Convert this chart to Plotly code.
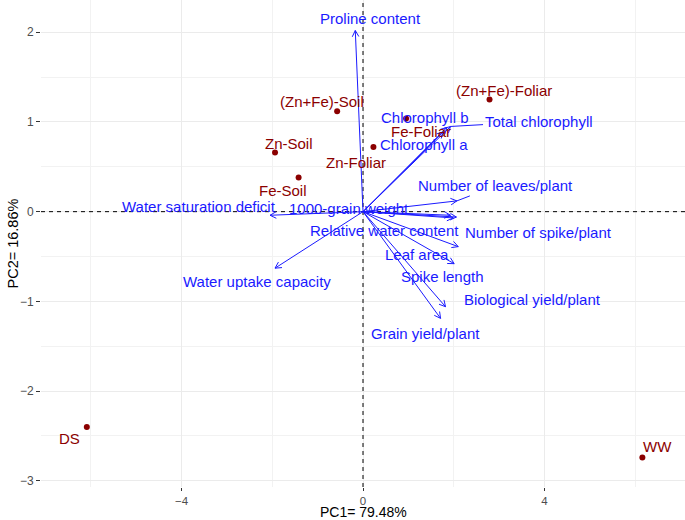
import math
import plotly.graph_objects as go

# ---------------- data ----------------
treatments = ["(Zn+Fe)-Foliar", "(Zn+Fe)-Soil", "Zn-Soil", "Fe-Soil",
              "Zn-Foliar", "Fe-Foliar", "DS", "WW"]
pc1_scores = [2.79, -0.57, -1.94, -1.42, 0.23, 0.95, -6.09, 6.16]
pc2_scores = [1.25, 1.12, 0.66, 0.38, 0.72, 1.04, -2.40, -2.74]

variables = ["Proline content", "Chlorophyll b", "Total chlorophyll", "Chlorophyll a",
             "Number of leaves/plant", "1000-grain weight", "Water saturation deficit",
             "Relative water content", "Number of spike/plant", "Leaf area",
             "Spike length", "Biological yield/plant", "Grain yield/plant",
             "Water uptake capacity"]
pc1_loadings = [-0.17, 1.85, 1.93, 1.77, 2.07, 1.93, -2.05, 1.99, 2.06, 2.10,
                2.01, 1.82, 1.71, -1.94]
pc2_loadings = [2.02, 0.94, 0.95, 0.89, 0.12, -0.04, -0.04, -0.07, -0.06, -0.39,
                -0.58, -1.06, -1.19, -0.63]

x_title = "PC1= 79.48%"
y_title = "PC2= 16.86%"
x_ticks = [-4, 0, 4]
y_ticks = [-3, -2, -1, 0, 1, 2]

# ---------------- style ----------------
W, H = 685, 520
M_L, M_R, M_T, M_B = 41, 0, 0, 33
X_RANGE = [-7.1, 7.1]
Y_RANGE = [-3.07, 2.36]
BLUE = "#1a1aff"
RED = "#8b0000"
FONT = "Liberation Sans, Arial, sans-serif"
LBL = 15

# label offsets (pixels, text centre relative to point/tip; +y downward)
score_label_offsets = [(14, -9), (-15, -10), (14, -9), (-16, 13),
                       (-17, 15), (15, 13), (-17, 12), (15, -11)]
var_label_offsets = [(15, -12), (-22, -10), (88, -5), (-19, 13),
                     (39, -15), (-102, -7), (-71, -9), (-69, 13),
                     (82, 15), (-41, 8), (-12, 13), (87, -7), (-15, 15),
                     (-18, 13)]
leader = {"Total chlorophyll", "Number of leaves/plant"}

plot_w = W - M_L - M_R
plot_h = H - M_T - M_B
ppx = plot_w / (X_RANGE[1] - X_RANGE[0])
ppy = plot_h / (Y_RANGE[1] - Y_RANGE[0])

fig = go.Figure()

# dashed reference lines at 0
fig.add_trace(go.Scatter(x=[X_RANGE[0], X_RANGE[1], None, 0, 0],
                         y=[0, 0, None, Y_RANGE[0], Y_RANGE[1]], mode="lines",
                         line=dict(color="black", width=1, dash="4px,4px"),
                         hoverinfo="skip", showlegend=False))

# arrows: shafts and open heads
ax_x, ax_y = [], []
head_len, head_ang = 7.0, math.radians(28)
for vx, vy in zip(pc1_loadings, pc2_loadings):
    ax_x += [0, vx, None]
    ax_y += [0, vy, None]
    dxp, dyp = vx * ppx, vy * ppy
    n = math.hypot(dxp, dyp)
    ux, uy = dxp / n, dyp / n
    for s in (1, -1):
        c, si = math.cos(s * head_ang), math.sin(s * head_ang)
        rx = ux * c - uy * si
        ry = ux * si + uy * c
        hx = vx - head_len * rx / ppx
        hy = vy - head_len * ry / ppy
        ax_x += [vx, hx, None]
        ax_y += [vy, hy, None]

fig.add_trace(go.Scatter(x=ax_x, y=ax_y, mode="lines",
                         line=dict(color=BLUE, width=1), hoverinfo="skip",
                         showlegend=False))

fig.add_trace(go.Scatter(x=pc1_scores, y=pc2_scores, mode="markers",
                         marker=dict(color=RED, size=6), showlegend=False,
                         text=treatments))

annotations = []
for name, vx, vy, (ox, oy) in zip(variables, pc1_loadings, pc2_loadings, var_label_offsets):
    annotations.append(dict(
        x=vx, y=vy, xref="x", yref="y", text=name, showarrow=True,
        ax=ox, ay=oy, arrowhead=0, standoff=0,
        arrowwidth=1, arrowcolor=BLUE if name in leader else "rgba(0,0,0,0)",
        font=dict(family=FONT, size=LBL, color=BLUE)))
for name, px_, py_, (ox, oy) in zip(treatments, pc1_scores, pc2_scores, score_label_offsets):
    annotations.append(dict(
        x=px_, y=py_, xref="x", yref="y", text=name, showarrow=True,
        ax=ox, ay=oy, arrowhead=0, arrowcolor="rgba(0,0,0,0)",
        font=dict(family=FONT, size=LBL, color=RED)))

# axis titles
annotations.append(dict(x=0.5, y=0, xref="paper", yref="paper", text=x_title,
                        showarrow=False, yanchor="middle", yshift=-25,
                        font=dict(family=FONT, size=14, color="black")))
annotations.append(dict(x=0, y=0.5, xref="paper", yref="paper", text=y_title,
                        showarrow=False, textangle=-90, xanchor="center", xshift=-29,
                        font=dict(family=FONT, size=14.5, color="black")))

fig.update_layout(
    width=W, height=H,
    margin=dict(l=M_L, r=M_R, t=M_T, b=M_B, pad=0),
    paper_bgcolor="white", plot_bgcolor="white",
    font=dict(family=FONT),
    annotations=annotations,
    xaxis=dict(range=X_RANGE, tickvals=x_ticks, ticks="outside", ticklen=3,
               tickcolor="#333333", tickwidth=1, automargin=False,
               tickfont=dict(family=FONT, size=11.5, color="#4d4d4d"),
               showgrid=True, gridcolor="#ebebeb", gridwidth=1,
               minor=dict(dtick=2, tick0=0, showgrid=True, gridcolor="#f2f2f2", gridwidth=0.6),
               zeroline=False, showline=False, fixedrange=True),
    yaxis=dict(range=Y_RANGE, tickvals=y_ticks, ticks="outside", ticklen=4,
               tickcolor="#333333", tickwidth=1, automargin=False,
               tickfont=dict(family=FONT, size=12, color="#4d4d4d"),
               showgrid=True, gridcolor="#ebebeb", gridwidth=1,
               minor=dict(dtick=0.5, tick0=0, showgrid=True, gridcolor="#f2f2f2", gridwidth=0.6),
               zeroline=False, showline=False, fixedrange=True),
)

fig.write_html("out.html", config={"displayModeBar": False},
               post_script="document.body.style.margin='0';document.body.style.overflow='hidden';")
